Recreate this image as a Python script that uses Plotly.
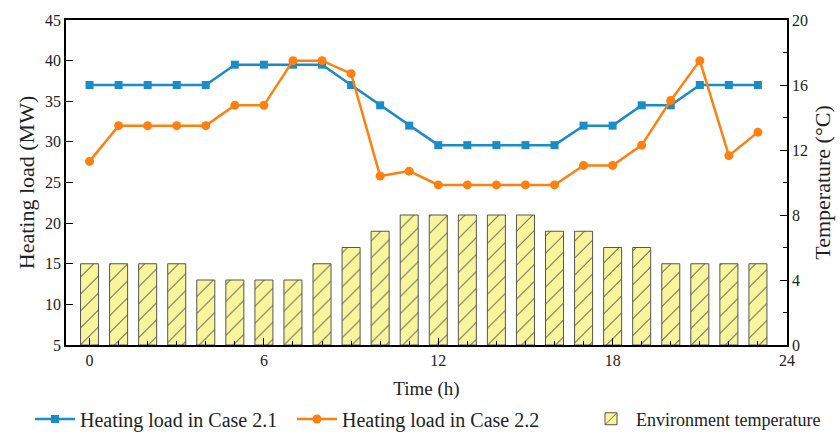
import plotly.graph_objects as go

hours = list(range(24))
case21 = [37, 37, 37, 37, 37, 39.5, 39.5, 39.5, 39.5, 37, 34.5, 32, 29.6, 29.6, 29.6, 29.6, 29.6, 32, 32, 34.5, 34.5, 37, 37, 37]
case22 = [27.6, 32, 32, 32, 32, 34.5, 34.5, 40, 40, 38.4, 25.8, 26.4, 24.7, 24.7, 24.7, 24.7, 24.7, 27.1, 27.1, 29.6, 35.1, 40, 28.3, 31.2]
env_temp = [5, 5, 5, 5, 4, 4, 4, 4, 5, 6, 7, 8, 8, 8, 8, 8, 7, 7, 6, 6, 5, 5, 5, 5]

BLUE = "#1a8cc8"
ORANGE = "#ff800e"
YELLOW = "#f8f59c"
FONT = "Liberation Serif"

fig = go.Figure()
fig.add_trace(go.Scatter(
    x=hours, y=case21, name="Heating load in Case 2.1", mode="lines+markers", legend="legend",
    line=dict(color=BLUE, width=2.5), marker=dict(symbol="square", size=8, color=BLUE),
))
fig.add_trace(go.Scatter(
    x=hours, y=case22, name="Heating load in Case 2.2", mode="lines+markers", legend="legend2",
    line=dict(color=ORANGE, width=2.5), marker=dict(symbol="circle", size=9, color=ORANGE),
))
fig.add_trace(go.Bar(
    x=hours, y=env_temp, yaxis="y2", name="Environment temperature", legend="legend3",
    width=0.62,
    marker=dict(color=YELLOW, line=dict(color="#555555", width=1),
                pattern=dict(shape="/", fgcolor="#333333", bgcolor=YELLOW,
                             size=12, solidity=0.08, fillmode="replace")),
))

def leg(x, size=20):
    return dict(orientation="h", x=x / 840, xanchor="left", xref="container",
                y=0.03, yanchor="middle", yref="container",
                font=dict(size=size, family=FONT), itemwidth=40,
                bgcolor="rgba(0,0,0,0)", borderwidth=0)

fig.update_layout(
    width=840, height=432,
    margin=dict(l=66, r=53, t=20, b=87),
    paper_bgcolor="white", plot_bgcolor="white",
    font=dict(family=FONT, size=16, color="#222222"),
    showlegend=True,
    legend=leg(30), legend2=leg(292), legend3=leg(586, 18),
    bargap=0.3,
    xaxis=dict(range=[-0.81, 24], tickvals=[0, 6, 12, 18, 24], showgrid=False, zeroline=False,
               showline=True, linecolor="black", linewidth=1.5, mirror=True, automargin=False,
               ticks="inside", ticklen=7, tickcolor="black",
               minor=dict(dtick=1, ticks="inside", ticklen=4, tickcolor="black"),
               title=dict(text="Time (h)", font=dict(size=19), standoff=14),
               tickfont=dict(size=16)),
    yaxis=dict(range=[5, 45], dtick=5, showgrid=False, zeroline=False, automargin=False,
               showline=True, linecolor="black", linewidth=1.5,
               ticks="inside", ticklen=7, tickcolor="black",
               title=dict(text="Heating load (MW)", font=dict(size=22), standoff=4),
               tickfont=dict(size=16)),
    yaxis2=dict(range=[0, 20], dtick=4, overlaying="y", side="right", showgrid=False, zeroline=False,
                showline=True, linecolor="black", linewidth=1.5, automargin=False,
                ticks="inside", ticklen=7, tickcolor="black",
                minor=dict(dtick=2, ticks="inside", ticklen=4, tickcolor="black"),
                title=dict(text="Temperature (°C)", font=dict(size=22), standoff=8),
                tickfont=dict(size=16)),
)

fig.write_html("out.html")
